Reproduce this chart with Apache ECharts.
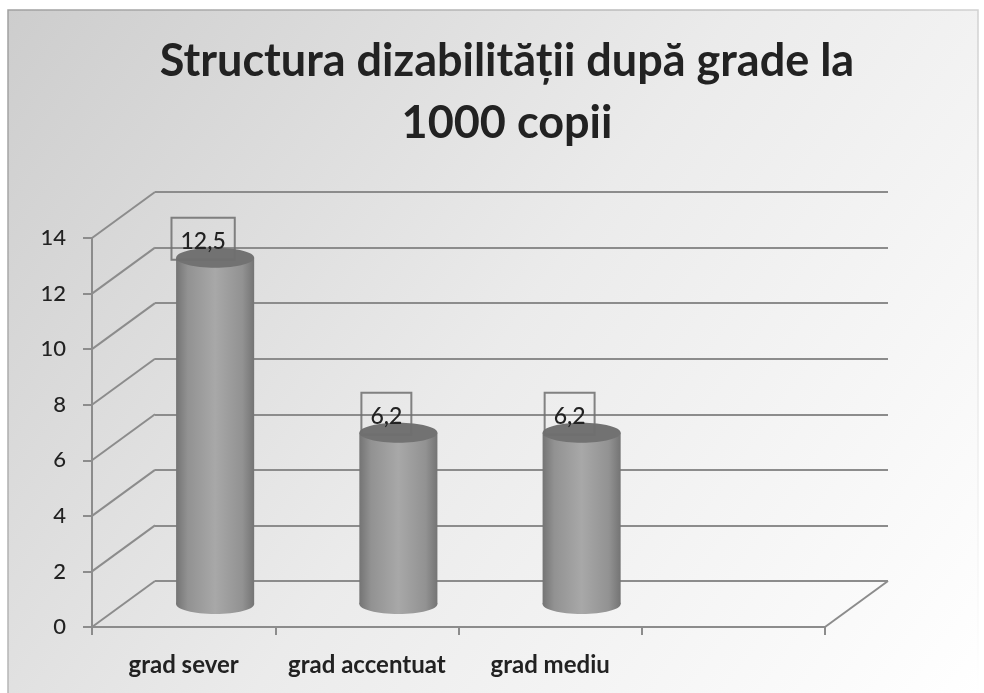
<!DOCTYPE html>
<html>
<head>
<meta charset="utf-8">
<style>
  html, body { margin: 0; padding: 0; background: #fff; }
  #chart { width: 984px; height: 693px; }
</style>
</head>
<body>
<div id="chart"></div>
<script src="https://cdn.jsdelivr.net/npm/echarts@6/dist/echarts.min.js"></script>
<script>
const titleText = 'Structura dizabilității după grade la\n1000 copii'
const categories = ['grad sever', 'grad accentuat', 'grad mediu', '']
const values = [12.5, 6.2, 6.2]
const wallTicks = [0, 2, 4, 6, 8, 10, 12, 14]

const lineColor = '#8c8c8c'
const textColor = '#222222'
const fontFamily = 'Lato, "Noto Sans", sans-serif'
// depth of the fake 3d box, back wall is shifted by this much
const depthX = 63
const depthY = -46

const myChart = echarts.init(document.getElementById('chart'), null, { renderer: 'canvas' })

function renderWall(params, api) {
    const sys = params.coordSys
    const y = api.coord([0, api.value(0)])[1]
    const children = [{
        type: 'line',
        shape: { x1: sys.x, y1: y, x2: sys.x + depthX, y2: y + depthY },
        style: { stroke: lineColor, lineWidth: 2 }
    }]
    // right side of the floor
    if (api.value(0) === 0) {
        children.push({
            type: 'line',
            shape: { x1: sys.x + sys.width, y1: y, x2: sys.x + sys.width + depthX, y2: y + depthY },
            style: { stroke: lineColor, lineWidth: 2 }
        })
    }
    return { type: 'group', children }
}

function renderCylinder(params, api) {
    const band = api.size([1, 0])[0]
    const top = api.coord([api.value(0), api.value(1)])
    const base = api.coord([api.value(0), 0])
    const cx = top[0] + depthX / 2
    const yTop = top[1] + depthY / 2 + 1
    const yBase = base[1] + depthY / 2
    const rx = band * 0.213
    const ry = 10
    const side = new echarts.graphic.LinearGradient(0, 0, 1, 0, [
        { offset: 0, color: '#747474' },
        { offset: 0.15, color: '#929292' },
        { offset: 0.5, color: '#a8a8a8' },
        { offset: 0.85, color: '#929292' },
        { offset: 1, color: '#747474' }
    ])
    return {
        type: 'group',
        children: [
            { type: 'ellipse', shape: { cx, cy: yBase, rx, ry }, style: { fill: side } },
            { type: 'rect', shape: { x: cx - rx, y: yTop, width: rx * 2, height: yBase - yTop }, style: { fill: side } },
            { type: 'ellipse', shape: { cx, cy: yTop, rx, ry }, style: { fill: '#727272' } },
            {
                type: 'text',
                style: {
                    x: cx - 12,
                    y: yTop + 2,
                    text: String(api.value(1)).replace('.', ','),
                    align: 'center',
                    verticalAlign: 'bottom',
                    font: '500 23px ' + fontFamily,
                    fill: textColor,
                    borderColor: 'rgba(110,110,110,0.85)',
                    borderWidth: 2,
                    padding: [12, 9, 7, 9]
                }
            }
        ]
    }
}

const option = {
    animation: false,
    backgroundColor: '#fff',
    graphic: [{
        type: 'rect',
        z: -10,
        shape: { x: 8, y: 10, width: 970, height: 690 },
        style: {
            fill: new echarts.graphic.LinearGradient(0, 0, 1, 1, [
                { offset: 0, color: '#cdcdcd' },
                { offset: 0.5, color: '#ebebeb' },
                { offset: 1, color: '#ffffff' }
            ]),
            stroke: new echarts.graphic.LinearGradient(0, 0, 1, 1, [
                { offset: 0, color: '#a0a0a0' },
                { offset: 0.6, color: '#c8c8c8' },
                { offset: 1, color: '#ffffff' }
            ]),
            lineWidth: 1.5
        }
    }],
    title: {
        text: titleText,
        left: 502,
        top: 25,
        textAlign: 'center',
        textStyle: {
            fontFamily,
            fontSize: 45,
            fontWeight: 'bold',
            color: textColor,
            lineHeight: 62
        }
    },
    grid: [
        { left: 92, width: 733, top: 238, height: 389 },
        { left: 92 + depthX, width: 733, top: 238 + depthY, height: 389 }
    ],
    xAxis: [
        {
            type: 'category',
            gridIndex: 0,
            data: categories,
            axisLine: { lineStyle: { color: lineColor, width: 2 } },
            axisTick: { show: true, interval: 0, length: 8, lineStyle: { color: lineColor, width: 2 } },
            axisLabel: { interval: 0, color: textColor, fontFamily, fontSize: 24, fontWeight: 'bold', margin: 26 }
        },
        { type: 'value', gridIndex: 1, show: false }
    ],
    yAxis: [
        {
            type: 'value',
            gridIndex: 0,
            min: 0,
            max: 14,
            interval: 2,
            axisLine: { show: true, lineStyle: { color: lineColor, width: 2 } },
            axisTick: { show: true, length: 9, lineStyle: { color: lineColor, width: 2 } },
            axisLabel: { color: textColor, fontFamily, fontSize: 22, fontWeight: 500, margin: 26 },
            splitLine: { show: false }
        },
        {
            type: 'value',
            gridIndex: 1,
            min: 0,
            max: 14,
            interval: 2,
            axisLine: { show: false },
            axisTick: { show: false },
            axisLabel: { show: false },
            splitLine: { show: true, lineStyle: { color: lineColor, width: 2 } }
        }
    ],
    series: [
        {
            type: 'custom',
            name: 'wall',
            xAxisIndex: 0,
            yAxisIndex: 0,
            silent: true,
            encode: { y: 0 },
            data: wallTicks.map(v => [v]),
            renderItem: renderWall
        },
        {
            type: 'custom',
            name: 'grade',
            xAxisIndex: 0,
            yAxisIndex: 0,
            encode: { x: 0, y: 1 },
            data: values.map((v, i) => [i, v]),
            renderItem: renderCylinder,
            z: 5
        }
    ]
}
myChart.setOption(option)
</script>
</body>
</html>
